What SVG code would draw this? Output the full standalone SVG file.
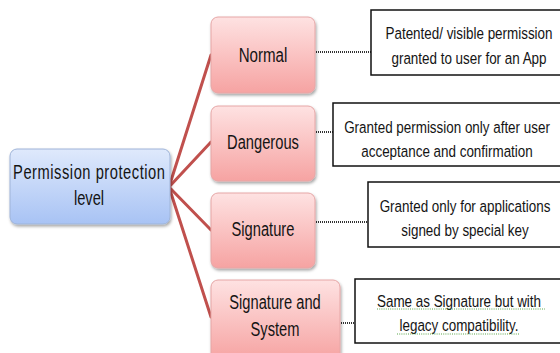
<svg xmlns="http://www.w3.org/2000/svg" width="560" height="353" viewBox="0 0 560 353">
<defs>
<linearGradient id="gPink" x1="0" y1="0" x2="0" y2="1">
<stop offset="0" stop-color="#fee2e2"/>
<stop offset="1" stop-color="#f6a3a2"/>
</linearGradient>
<linearGradient id="gBlue" x1="0" y1="0" x2="0" y2="1">
<stop offset="0" stop-color="#dfe9fc"/>
<stop offset="1" stop-color="#a8c3f4"/>
</linearGradient>
<filter id="sh" x="-10%" y="-10%" width="125%" height="130%">
<feDropShadow dx="1" dy="2" stdDeviation="1.5" flood-color="#000" flood-opacity="0.35"/>
</filter>
</defs>
<style>
.pink{fill:url(#gPink);stroke:#e6a6a6;stroke-width:1;filter:url(#sh)}
.blue{fill:url(#gBlue);stroke:#9fb4d8;stroke-width:1;filter:url(#sh)}
.desc{fill:#fff;stroke:#111;stroke-width:1.5}
.t{font-family:"Liberation Sans",Arial,sans-serif;fill:#141414;text-anchor:middle;dominant-baseline:central}
.n{font-size:21px}
.d{font-size:17px}
.branch{stroke:#c0504d;stroke-width:3;fill:none;stroke-linecap:round}
.dot{stroke:#333;stroke-width:2;stroke-dasharray:1 1;fill:none}
.sq{stroke:#5aa64a;stroke-width:1.2;stroke-dasharray:1 1.2;fill:none}
</style>
<g id="connectors">
<path class="branch" d="M169 187 L211 55"/>
<path class="branch" d="M169 187 L211 142"/>
<path class="branch" d="M169 187 L211 230"/>
<path class="branch" d="M169 187 L211 317"/>
<path class="dot" d="M316 52 H371"/>
<path class="dot" d="M316 132 H333"/>
<path class="dot" d="M316 222 H368"/>
<path class="dot" d="M341 323 H355"/>
</g>
<g id="root">
<rect class="blue" x="10" y="149" width="160" height="75" rx="7"/>
<text class="t n" transform="translate(89 172) scale(0.7 1)" textLength="217" lengthAdjust="spacing">Permission protection</text>
<text class="t n" transform="translate(89 198) scale(0.7 1)">level</text>
</g>
<g id="normal">
<rect class="pink" x="211" y="17" width="104" height="76" rx="7"/>
<text class="t n" transform="translate(263 55) scale(0.72 1)">Normal</text>
</g>
<g id="dangerous">
<rect class="pink" x="211" y="106" width="104" height="75" rx="7"/>
<text class="t n" transform="translate(263 142) scale(0.7 1)">Dangerous</text>
</g>
<g id="signature">
<rect class="pink" x="211" y="193" width="104" height="75" rx="7"/>
<text class="t n" transform="translate(263 229) scale(0.7 1)">Signature</text>
</g>
<g id="sigsys">
<rect class="pink" x="211" y="280" width="129" height="80" rx="7"/>
<text class="t n" transform="translate(275 302) scale(0.7 1)">Signature and</text>
<text class="t n" transform="translate(275 329) scale(0.7 1)">System</text>
</g>
<g id="desc-normal">
<rect class="desc" x="371" y="10" width="195" height="65"/>
<text class="t d" transform="translate(469 33) scale(0.79 1)">Patented/ visible permission</text>
<text class="t d" transform="translate(469 58) scale(0.79 1)">granted to user for an App</text>
</g>
<g id="desc-dangerous">
<rect class="desc" x="333" y="103" width="235" height="63"/>
<text class="t d" transform="translate(447 127) scale(0.79 1)">Granted permission only after user</text>
<text class="t d" transform="translate(447 151) scale(0.79 1)">acceptance and confirmation</text>
</g>
<g id="desc-signature">
<rect class="desc" x="368" y="182" width="200" height="65"/>
<text class="t d" transform="translate(465 206) scale(0.79 1)">Granted only for applications</text>
<text class="t d" transform="translate(465 230) scale(0.79 1)">signed by special key</text>
</g>
<g id="desc-sigsys">
<rect class="desc" x="355" y="279" width="213" height="64"/>
<text class="t d" transform="translate(459 301) scale(0.79 1)">Same as Signature but with</text>
<text class="t d" transform="translate(459 325) scale(0.79 1)">legacy compatibility.</text>
<path class="sq" d="M377 309 H545"/>
<path class="sq" d="M397 334 H520"/>
</g>
</svg>
